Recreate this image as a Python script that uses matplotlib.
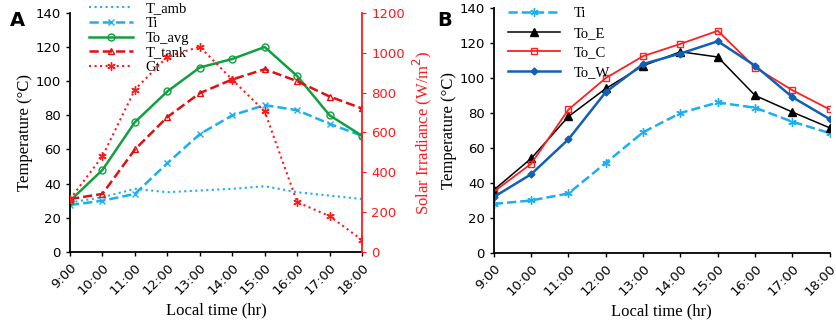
import matplotlib
matplotlib.use("Agg")
import matplotlib.pyplot as plt

hours = ["9:00", "10:00", "11:00", "12:00", "13:00", "14:00", "15:00", "16:00", "17:00", "18:00"]

# panel A
t_amb = [29, 32, 37, 35, 36, 37, 38.5, 35, 33, 31]
ti_a = [27.5, 30, 34, 52, 69, 80, 86, 83, 75, 68]
to_avg = [30, 48, 76, 94, 108, 113, 120, 103, 80, 68]
t_tank = [31, 34, 60, 79, 93, 101, 107, 100, 91, 84]
gt = [265, 480, 815, 980, 1030, 865, 705, 250, 180, 60]

# panel B
ti_b = [28, 30, 34, 51.5, 69, 80, 86, 83, 75, 68.5]
to_e = [36, 54, 78, 94, 107, 115, 112, 90, 80.5, 71.5]
to_c = [35, 51, 82, 100, 112.5, 119.5, 127, 106, 93, 82]
to_w = [32, 45, 65, 92, 108, 114, 121, 107, 89, 76.5]

SERIF = "Liberation Serif"
SANS = "DejaVu Sans"
RED = "#FF1A1A"
CYAN = "#1AB0F0"

fig = plt.figure(figsize=(8.37, 3.21), dpi=100)
xs = list(range(len(hours)))

def style_axis(ax):
    ax.set_xlim(0, len(hours) - 1)
    ax.set_ylim(0, 140)
    ax.set_yticks(range(0, 141, 20))
    ax.set_xticks(xs)
    ax.set_xticklabels(hours, rotation=45, ha="right", rotation_mode="anchor", fontsize=9.5, family=SANS)
    for lab in ax.get_yticklabels():
        lab.set_fontsize(9.5); lab.set_family(SANS)
    ax.tick_params(direction="out", length=3, width=1)
    ax.spines["top"].set_visible(False)
    ax.spines["right"].set_visible(False)
    ax.spines["left"].set_linewidth(1.3)
    ax.spines["bottom"].set_linewidth(1.3)
    ax.set_xlabel("Local time (hr)", family=SERIF, fontsize=12)
    ax.set_ylabel("Temperature (°C)", family=SERIF, fontsize=12, labelpad=2)

# ---- A
ax = fig.add_axes([0.0836, 0.215, 0.349, 0.745])
ax2 = ax.twinx()
ax.plot(xs, t_amb, ls=":", color=CYAN, lw=1.5, label="T_amb")
ax.plot(xs, ti_a, ls="--", color=CYAN, lw=1.8, marker="x", ms=5, label="Ti")
ax.plot(xs, to_avg, ls="-", color="#10A040", lw=1.8, marker="o", ms=5, mfc="none", label="To_avg")
ax.plot(xs, t_tank, ls="--", color="#E01010", lw=1.8, marker="^", ms=5, mfc="none", label="T_tank")
gl, = ax2.plot(xs, gt, ls=":", color=RED, lw=1.5, marker=(6, 2, 0), ms=6, label="Gt")
style_axis(ax)
ax2.set_ylim(0, 1200)
ax2.set_yticks(range(0, 1201, 200))
ax2.tick_params(axis="y", colors=RED, direction="out", length=3, labelsize=9.5)
for lab in ax2.get_yticklabels():
    lab.set_family(SANS)
ax2.spines["right"].set_color(RED)
ax2.spines["right"].set_linewidth(1.3)
ax2.spines["top"].set_visible(False)
ax2.spines["left"].set_visible(False)
ax2.spines["bottom"].set_visible(False)
ax2.set_ylabel("Solar Irradiance (W/m$^2$)", color=RED, family=SERIF, fontsize=12)
h, l = ax.get_legend_handles_labels()
ax.legend(h + [gl], l + ["Gt"], loc="upper left", bbox_to_anchor=(0.04, 1.075), frameon=False,
          prop={"family": SERIF, "size": 10.5}, handlelength=3.0, handletextpad=0.9,
          labelspacing=0.1, borderpad=0)
fig.text(0.012, 0.965, "A", fontsize=14, weight="bold", family=SANS, va="top")

# ---- B
bx = fig.add_axes([0.590, 0.212, 0.4014, 0.763])
bx.plot(xs, ti_b, ls="--", color=CYAN, lw=1.8, marker=(6, 2, 0), ms=6, label="Ti")
bx.plot(xs, to_e, ls="-", color="black", lw=1.1, marker="^", ms=6, label="To_E")
bx.plot(xs, to_c, ls="-", color="#FF2020", lw=1.3, marker="s", ms=5, mfc="none", label="To_C")
bx.plot(xs, to_w, ls="-", color="#1060B8", lw=1.8, marker="D", ms=3.5, label="To_W")
style_axis(bx)
bx.legend(loc="upper left", bbox_to_anchor=(0.02, 1.035), frameon=False,
          prop={"family": SERIF, "size": 10.5}, handlelength=3.6, handletextpad=0.9,
          labelspacing=0.45, borderpad=0)
fig.text(0.522, 0.965, "B", fontsize=14, weight="bold", family=SANS, va="top")

fig.savefig("out.png", dpi=100)
